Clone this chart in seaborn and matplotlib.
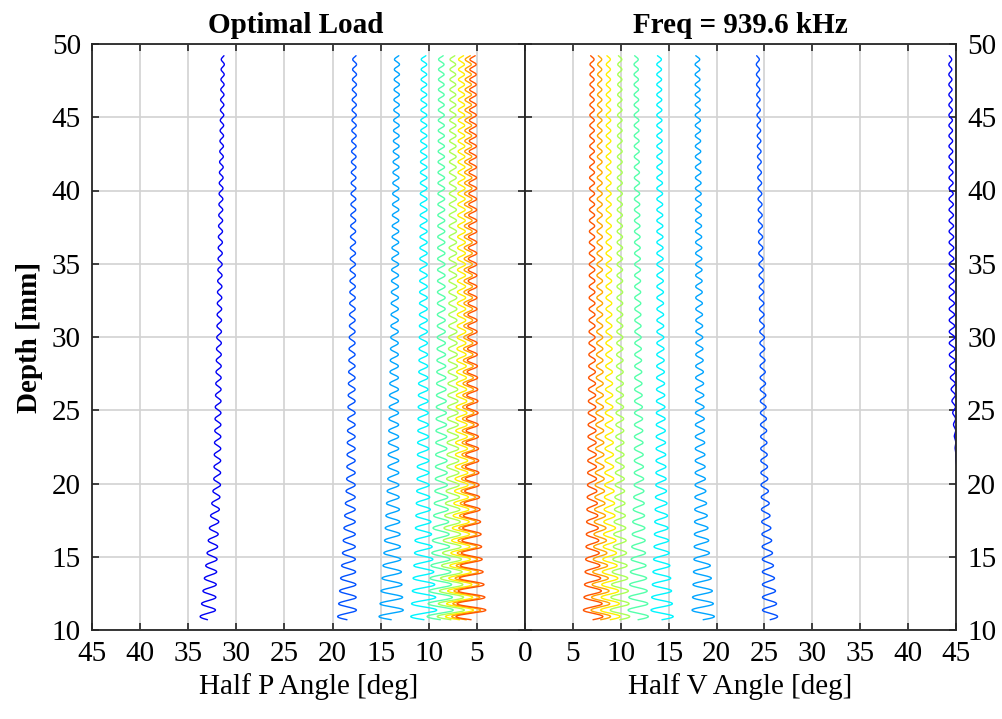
import numpy as np
import pandas as pd
import matplotlib
matplotlib.use('Agg')
import matplotlib.pyplot as plt
import seaborn as sns

# data
line_colors = ['#0000F5', '#0050FF', '#00A5FF', '#00F5FF', '#55FFAA',
               '#AAFF55', '#FFF000', '#FFA500', '#FF5500']

depth_knots = [10.7, 20.0, 49.2]          # depth [mm] where centres were read
p_centers = [[33.0, 32.0, 31.4], [18.5, 18.1, 17.7], [13.9, 13.7, 13.3],
             [10.5, 10.6, 10.5], [8.8, 8.7, 8.7], [7.7, 7.5, 7.5],
             [6.8, 6.6, 6.6], [6.1, 5.9, 5.9], [5.6, 5.5, 5.4]]
v_centers = [[None, None, None], [25.6, 25.0, 24.3], [18.6, 18.3, 18.0],
             [14.3, 14.2, 14.0], [11.8, 11.9, 11.6], [9.9, 9.9, 9.9],
             [8.9, 8.8, 8.7], [7.9, 7.8, 7.8], [7.1, 7.0, 7.0]]
p_amp = [0.8, 1.0, 1.3, 1.4, 1.4, 1.45, 1.5, 1.55, 1.6]   # half swing at bottom [deg]
v_amp = [0.0, 0.8, 1.2, 1.2, 1.1, 1.05, 1.05, 1.05, 1.05]

# the far right V line bends out of the axes below ~21 mm
v_dark_depth = [10.7, 21.5, 28.3, 49.2]
v_dark_center = [47.5, 45.0, 44.6, 44.4]
v_dark_amp = [0.0, 0.0, 0.3, 0.15]

env_depth = [10.7, 15.0, 20.0, 30.0, 49.2]
env_scale = [1.0, 0.68, 0.45, 0.3, 0.2]
period_depth = [10.7, 30.0, 49.2]
period_mm = [0.88, 0.78, 0.68]

p_ticks = [45, 40, 35, 30, 25, 20, 15, 10, 5]
v_ticks = [0, 5, 10, 15, 20, 25, 30, 35, 40, 45]
depth_ticks = [10, 15, 20, 25, 30, 35, 40, 45, 50]

# build the wiggly traces
depth = np.linspace(10.7, 49.2, 4000)
period = np.interp(depth, period_depth, period_mm)
phase = np.concatenate([[0], np.cumsum(np.diff(depth) / period[1:])]) * 2 * np.pi
wave = np.sin(phase)
env = np.interp(depth, env_depth, env_scale)

rows_p, rows_v = [], []
for i in range(len(line_colors)):
    c = np.interp(depth, depth_knots, p_centers[i])
    rows_p.append(pd.DataFrame({'angle': c + p_amp[i] * env * wave,
                                'depth': depth, 'line': i}))
    if i == 0:
        c = np.interp(depth, v_dark_depth, v_dark_center)
        a = np.interp(depth, v_dark_depth, v_dark_amp)
        rows_v.append(pd.DataFrame({'angle': c + a * wave, 'depth': depth, 'line': i}))
    else:
        c = np.interp(depth, depth_knots, v_centers[i])
        rows_v.append(pd.DataFrame({'angle': c + v_amp[i] * env * wave,
                                    'depth': depth, 'line': i}))
df_p = pd.concat(rows_p)
df_v = pd.concat(rows_v)

sns.set_style('white')
plt.rcParams['font.family'] = ['Liberation Serif', 'DejaVu Serif']
plt.rcParams['text.color'] = 'black'
plt.rcParams['axes.labelcolor'] = 'black'
plt.rcParams['xtick.color'] = 'black'
plt.rcParams['ytick.color'] = 'black'

fig = plt.figure(figsize=(10.03, 7.19), dpi=100)
W, H = 1003, 719
ax1 = fig.add_axes([92 / W, 1 - 630 / H, 433 / W, 586 / H])
ax2 = fig.add_axes([525 / W, 1 - 630 / H, 431 / W, 586 / H])

for ax, d in [(ax1, df_p), (ax2, df_v)]:
    sns.lineplot(data=d, x='angle', y='depth', hue='line', palette=line_colors,
                 sort=False, estimator=None, legend=False, lw=1.0, ax=ax)
    ax.set_ylim(10, 50)
    ax.set_yticks(depth_ticks)
    ax.grid(True, color='#d2d2d2', lw=1.2)
    ax.set_axisbelow(True)
    ax.tick_params(direction='in', length=5, width=1.2, color='#262626',
                   labelcolor='black', top=True, right=True, bottom=True,
                   left=True, labelsize=21, pad=8)
    for s in ax.spines.values():
        s.set_color('#262626')
        s.set_linewidth(1.3)

ax1.set_xlim(45, 0)
ax1.set_xticks(p_ticks)
ax1.set_xlabel('Half P Angle [deg]', fontsize=21, labelpad=4)
ax1.set_ylabel('Depth [mm]', fontsize=21, fontweight='bold', labelpad=6)
ax1.set_title('Optimal Load', fontsize=21, fontweight='bold', pad=8, x=0.47)

ax2.set_xlim(0, 45)
ax2.set_xticks(v_ticks)
ax2.set_xlabel('Half V Angle [deg]', fontsize=21, labelpad=4)
ax2.set_ylabel('')
ax2.tick_params(labelleft=False, labelright=True)
ax2.set_title('Freq = 939.6 kHz', fontsize=21, fontweight='bold', pad=8)

fig.savefig('out.png', dpi=100)
